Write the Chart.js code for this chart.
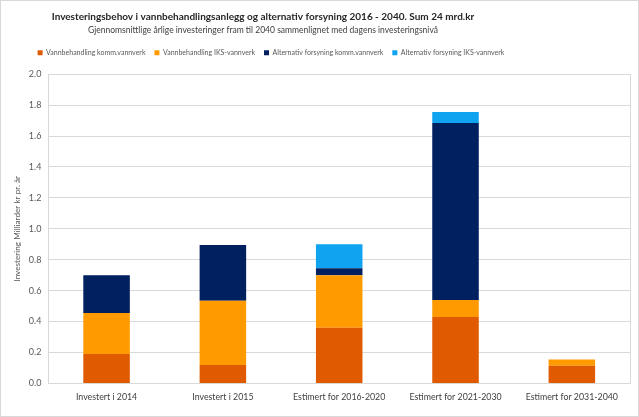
<!DOCTYPE html>
<html><head><meta charset="utf-8">
<script src="https://cdn.jsdelivr.net/npm/chart.js@4"></script>
<style>html,body{margin:0;padding:0;background:#fff}#wrap{width:639px;height:417px;position:relative}</style>
</head><body><div id="wrap"><canvas id="c" width="639" height="417"></canvas></div>
<script>
const categories = ['Investert i 2014','Investert i 2015','Estimert for 2016-2020','Estimert for 2021-2030','Estimert for 2031-2040'];
const vannbehandlingKomm = [0.19, 0.12, 0.36, 0.43, 0.115];
const vannbehandlingIKS = [0.265, 0.415, 0.34, 0.11, 0.04];
const alternativKomm = [0.245, 0.36, 0.045, 1.145, 0];
const alternativIKS = [0, 0, 0.155, 0.07, 0];
const seriesNames = ['Vannbehandling komm.vannverk','Vannbehandling IKS-vannverk','Alternativ forsyning komm.vannverk','Alternativ forsyning IKS-vannverk'];
const yTicks = [0,0.2,0.4,0.6,0.8,1.0,1.2,1.4,1.6,1.8,2.0];

const FONT = 'Lato, "Open Sans", sans-serif';
const borders = {
  id:'borders',
  afterDraw(chart){
    const ctx = chart.ctx, a = chart.chartArea;
    ctx.save();
    ctx.strokeStyle = '#D9D9D9'; ctx.lineWidth = 1;
    ctx.strokeRect(Math.round(a.left)+0.5, Math.round(a.top)+0.5, Math.round(a.right-a.left), Math.round(a.bottom-a.top));
    ctx.strokeRect(0.5,0.5,chart.width-1,chart.height-1);
    ctx.restore();
  }
};
// header in the reference is centred left of the canvas centre and sits a bit higher
const headerShift = {
  id:'headerShift',
  afterLayout(chart){
    chart.boxes.forEach(b=>{
      if (b.position !== 'top') return;
      const isLegend = (b === chart.legend);
      const dx = isLegend ? -50 : -58;
      const dy = isLegend ? -8 : -5;
      b.left += dx; b.right += dx; b.top += dy; b.bottom += dy;
    });
  }
};
const colors = ['#E05A00','#FF9A00','#002060','#0FA3F0'];
new Chart(document.getElementById('c'), {
  type:'bar',
  data:{
    labels: categories,
    datasets:[
      {label:seriesNames[0], data:vannbehandlingKomm, backgroundColor:colors[0]},
      {label:seriesNames[1], data:vannbehandlingIKS, backgroundColor:colors[1]},
      {label:seriesNames[2], data:alternativKomm, backgroundColor:colors[2]},
      {label:seriesNames[3], data:alternativIKS, backgroundColor:colors[3]}
    ]
  },
  options:{
    responsive:false, animation:false,
    datasets:{bar:{categoryPercentage:1, barPercentage:0.4}},
    layout:{padding:{left:12,right:9,top:10,bottom:15}},
    plugins:{
      title:{display:true, text:'Investeringsbehov i vannbehandlingsanlegg og alternativ forsyning 2016 - 2040. Sum 24 mrd.kr', color:'#262626', font:{family:FONT,size:10,weight:'bold'}, padding:{top:6,bottom:2}},
      subtitle:{display:true, text:'Gjennomsnittlige årlige investeringer fram til 2040 sammenlignet med dagens investeringsnivå', color:'#404040', font:{family:FONT,size:8.5}, padding:{top:0,bottom:8}},
      legend:{position:'top', labels:{boxWidth:5, boxHeight:5, color:'#595959', font:{family:FONT,size:7}, padding:9}},
      tooltip:{enabled:false}
    },
    scales:{
      x:{stacked:true, grid:{display:false}, border:{display:false}, ticks:{color:'#404040', font:{family:FONT,size:8.8}, maxRotation:0, padding:0}},
      y:{stacked:true, min:0, max:2, afterBuildTicks(ax){ax.ticks = yTicks.map(v=>({value:v}));}, grid:{color:'#D9D9D9', drawTicks:false}, border:{display:false},
         ticks:{color:'#595959', font:{family:FONT,size:9}, padding:7, callback:v=>v.toFixed(1)},
         title:{display:true, text:'Investering Milliarder kr pr. år', color:'#595959', font:{family:FONT,size:8.2}, padding:{top:0,bottom:0}}}
    }
  },
  plugins:[borders, headerShift]
});
</script></body></html>
